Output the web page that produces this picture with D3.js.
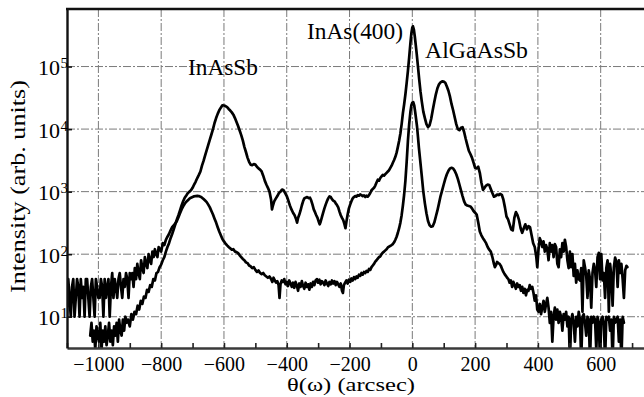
<!DOCTYPE html>
<html>
<head>
<meta charset="utf-8">
<script src="https://cdn.jsdelivr.net/npm/d3@7/dist/d3.min.js"></script>
<style>
  html, body { margin: 0; padding: 0; background: #fff; }
  svg { display: block; }
</style>
</head>
<body>
<svg id="chart" width="644" height="397"></svg>
<script>
// ---------------- DATA ----------------
const xMajorTicks = [-1000, -800, -600, -400, -200, 0, 200, 400, 600];
const xMinorTicks = [-1100, -900, -700, -500, -300, -100, 100, 300, 500, 700];
const yTickExponents = [1, 2, 3, 4, 5];
const xTitle = "θ(ω) (arcsec)";
const yTitle = "Intensity (arb. units)";
const peakLabels = ["InAsSb", "InAs(400)", "AlGaAsSb"];

// upper curve: [theta (arcsec), intensity]
const upperCurve = [
  [-1026,5],[-1022,8],[-1018,4],[-1014,6],[-1010,3],[-1006,7],[-1002,5],[-998,4],[-994,8],[-990,3],
  [-986,6],[-982,4],[-978,7],[-974,3.5],[-970,5],[-966,8],[-962,4],[-958,6],[-954,3.5],[-950,7],
  [-946,5],[-942,8],[-938,4],[-934,9],[-930,6],[-926,5],[-922,9],[-918,6],[-914,10],[-910,8],
  [-906,9],[-900,7],[-895,11],[-890,9],[-885,12],[-880,11],[-875,15],[-870,13],[-865,18],[-860,16],
  [-855,21],[-850,20],[-845,27],[-840,25],[-835,32],[-830,30],[-825,40],[-820,38],[-815,50],[-810,52],
  [-805,62],[-800,68],[-795,80],[-790,90],[-785,110],[-780,130],[-775,150],[-770,180],[-765,210],[-760,250],
  [-755,300],[-750,360],[-745,420],[-740,500],[-735,600],[-730,700],[-725,800],[-720,870],[-715,950],[-710,1000],
  [-705,1050],[-700,1150],[-695,1300],[-690,1450],[-685,1650],[-680,1850],[-675,2100],[-670,2600],[-665,3100],[-660,3800],
  [-655,4600],[-650,5600],[-645,6800],[-640,8200],[-635,10000],[-630,12500],[-625,15000],[-620,17500],[-615,20000],[-610,22000],
  [-605,24000],[-600,23800],[-595,23300],[-590,22500],[-585,21000],[-580,19800],[-575,18500],[-570,17000],[-565,15000],[-560,13000],
  [-555,11200],[-550,9500],[-545,8000],[-540,6600],[-535,5200],[-530,4300],[-525,3500],[-520,3000],[-515,2700],[-510,2650],
  [-505,2750],[-500,2700],[-495,2500],[-490,2350],[-485,2250],[-480,2100],[-475,1800],[-470,1500],[-465,1300],[-460,1150],
  [-455,1000],[-450,750],[-447,520],[-444,600],[-440,700],[-436,760],[-430,850],[-425,950],[-420,1000],[-415,1080],
  [-410,1050],[-405,950],[-400,850],[-395,720],[-390,600],[-385,520],[-380,460],[-375,420],[-370,360],[-367,320],
  [-364,380],[-360,430],[-356,500],[-352,600],[-348,700],[-344,780],[-340,800],[-335,820],[-330,790],[-326,800],
  [-322,720],[-318,620],[-314,520],[-310,470],[-306,420],[-302,380],[-298,330],[-295,300],[-292,330],[-288,390],
  [-284,460],[-280,540],[-276,620],[-272,700],[-268,780],[-264,840],[-260,820],[-256,760],[-252,720],[-248,700],
  [-244,650],[-240,610],[-236,560],[-232,480],[-228,420],[-224,380],[-220,350],[-216,300],[-213,260],[-210,330],
  [-206,430],[-202,540],[-198,620],[-194,700],[-190,780],[-186,820],[-182,850],[-178,830],[-174,880],[-170,860],
  [-166,900],[-162,880],[-158,850],[-154,870],[-150,820],[-146,860],[-142,830],[-138,880],[-134,950],[-130,1050],
  [-126,1100],[-122,1150],[-118,1250],[-114,1400],[-110,1550],[-106,1500],[-102,1650],[-98,1750],[-94,1850],[-90,1800],
  [-86,1900],[-82,2000],[-78,2100],[-74,2200],[-70,2400],[-66,2600],[-62,2900],[-58,3200],[-54,3600],[-50,4200],
  [-46,5200],[-42,6500],[-38,8500],[-34,12000],[-30,18000],[-26,25000],[-22,36000],[-18,55000],[-14,85000],[-10,140000],
  [-6,240000],[-3,340000],[0,420000],[2,440000],[5,390000],[8,300000],[11,220000],[14,160000],[18,100000],[22,62000],
  [26,40000],[30,28000],[35,19000],[40,15000],[45,12000],[50,10800],[55,11500],[60,14500],[65,20000],[70,27000],
  [75,36000],[80,45000],[85,52000],[90,56000],[95,58000],[100,57500],[105,55000],[110,48000],[115,41000],[120,33000],
  [125,25000],[130,20000],[135,15500],[140,12000],[145,10000],[150,9600],[155,10500],[160,10700],[165,9000],[170,7000],
  [175,5600],[180,4500],[185,4000],[190,3500],[195,2900],[200,2400],[205,2350],[210,2500],[215,2000],[220,1400],
  [225,1070],[230,1150],[235,1250],[240,1300],[245,1280],[250,1100],[255,950],[260,830],[265,850],[270,900],
  [275,880],[280,920],[285,890],[290,750],[295,560],[300,400],[305,360],[310,300],[315,250],[320,240],
  [325,380],[330,470],[335,420],[340,350],[345,260],[350,220],[355,260],[360,300],[365,250],[370,280],
  [375,270],[380,200],[385,150],[390,130],[395,90],[398,62],[402,120],[406,180],[410,160],[414,130],
  [418,160],[422,110],[426,140],[430,120],[434,80],[438,150],[442,110],[446,140],[450,90],[454,145],
  [458,130],[462,70],[466,62],[470,120],[474,90],[478,150],[482,110],[486,170],[490,130],[494,80],
  [498,60],[502,110],[506,62],[510,100],[514,45],[518,70],[522,35],[526,55],[530,40],[534,38],
  [538,60],[542,12],[546,80],[550,62],[554,45],[558,20],[562,55],[566,40],[570,14],[574,50],
  [578,70],[582,56],[586,30],[590,90],[594,105],[598,40],[602,100],[606,38],[610,50],[614,20],
  [618,60],[622,80],[626,12],[630,70],[634,45],[638,15],[642,62],[646,88],[650,75],[654,30],
  [658,80],[662,50],[666,70],[670,40],[674,20],[678,55],[682,65],[685,62]
];

// lower curve: [theta (arcsec), intensity]
const lowerCurve = [
  [-1100,10],[-1096,40],[-1092,20],[-1088,10],[-1084,30],[-1080,40],[-1076,10],[-1072,20],[-1068,40],[-1064,30],
  [-1060,10],[-1056,40],[-1052,20],[-1048,30],[-1044,10],[-1040,40],[-1036,40],[-1032,20],[-1028,10],[-1024,30],
  [-1020,40],[-1016,20],[-1012,10],[-1008,40],[-1004,30],[-1000,20],
  [-996,20],[-992,40],[-988,30],[-984,10],[-980,40],[-976,20],[-972,30],[-968,40],[-964,10],[-960,30],
  [-956,50],[-952,20],[-948,40],[-944,30],[-940,20],[-936,40],[-932,50],[-928,30],[-924,20],[-920,40],
  [-916,30],[-912,50],[-908,40],[-904,20],[-900,50],
  [-896,40],[-892,50],[-888,30],[-884,60],[-880,40],[-876,70],[-872,50],[-868,40],[-864,80],[-860,60],
  [-856,50],[-852,90],[-848,70],[-844,60],[-840,100],[-836,80],[-832,70],[-828,110],[-824,90],[-820,120],
  [-816,100],[-812,90],[-808,130],
  [-800,110],[-795,150],[-790,140],[-785,170],[-780,190],[-775,210],[-770,240],[-765,270],[-760,290],[-755,310],
  [-750,340],[-745,390],[-740,450],[-735,520],[-730,580],[-725,640],[-720,690],[-715,730],[-710,770],[-705,800],
  [-700,820],[-695,840],[-690,850],[-685,855],[-680,850],[-675,830],[-670,800],[-665,760],[-660,720],[-655,680],
  [-650,620],[-645,560],[-640,490],[-635,430],[-630,370],[-625,320],[-620,270],[-615,230],[-610,200],[-605,175],
  [-600,160],[-595,148],[-590,138],[-585,130],[-580,124],[-575,118],[-570,120],[-565,110],[-560,108],[-555,104],
  [-550,96],[-545,90],[-540,84],[-535,80],[-530,74],[-525,72],[-520,66],[-515,64],[-510,60],[-505,62],
  [-500,56],[-495,52],[-490,55],[-485,50],[-480,48],[-475,50],[-470,46],[-465,44],[-460,42],[-455,44],
  [-450,40],[-446,36],[-442,42],[-438,38],[-434,35],[-430,37],[-426,32],[-423,20],[-420,33],[-416,38],
  [-412,36],[-408,40],[-404,33],[-400,36],[-396,31],[-392,38],[-388,34],[-384,30],[-380,35],[-376,29],
  [-372,36],[-368,32],[-364,26],[-360,34],[-356,30],[-352,37],[-348,31],[-344,28],[-340,35],[-336,30],
  [-332,33],[-328,27],[-324,34],[-320,30],[-316,36],[-312,32],[-308,38],[-304,40],[-300,35],[-296,39],
  [-292,33],[-288,37],[-284,35],[-280,32],[-276,38],[-272,34],[-268,31],[-264,36],[-260,33],[-256,38],
  [-252,34],[-248,37],[-244,32],[-240,36],[-236,33],[-232,30],[-228,34],[-224,26],[-221,24],[-218,32],
  [-214,35],[-210,38],[-206,34],[-202,39],[-198,36],[-194,41],[-190,38],[-186,43],[-182,40],[-178,44],
  [-174,42],[-170,47],[-166,45],[-162,50],[-158,47],[-154,52],[-150,50],[-146,54],[-142,52],[-138,58],
  [-134,56],[-130,62],[-126,66],[-122,70],[-118,76],[-114,80],[-110,85],[-106,90],[-102,92],[-98,100],
  [-94,106],[-90,110],[-86,115],[-82,120],[-78,128],[-74,132],[-70,136],[-66,140],[-62,145],[-58,155],
  [-54,170],[-50,190],[-46,220],[-42,260],[-38,320],[-34,420],[-30,600],[-26,900],[-22,1500],[-18,3000],
  [-14,6500],[-10,12000],[-6,19000],[-3,24000],[0,26500],[3,27000],[6,24000],[9,19000],[12,14500],[15,11000],
  [18,7500],[21,5000],[25,3200],[30,1800],[35,1000],[40,650],[45,450],[50,340],[55,290],[60,275],
  [65,280],[70,320],[75,400],[80,500],[85,650],[90,850],[95,1050],[100,1300],[105,1600],[110,1900],
  [115,2150],[120,2350],[125,2400],[130,2350],[135,2150],[140,1900],[145,1600],[150,1300],[155,1050],[160,850],
  [165,700],[170,620],[175,600],[180,590],[185,580],[190,540],[195,490],[200,460],[205,430],[210,320],
  [215,230],[220,200],[225,180],[230,165],[235,150],[240,130],[245,118],[250,110],[255,90],[260,70],
  [263,62],[266,66],[270,75],[274,72],[278,70],[282,65],[286,58],[290,52],[294,48],[298,45],
  [302,42],[306,40],[310,35],[314,38],[318,30],[322,36],[326,32],[330,28],[334,34],[338,30],
  [342,32],[346,26],[350,30],[354,24],[358,28],[362,22],[366,27],[370,26],[374,32],[378,28],
  [382,30],[386,24],[390,18],[394,22],[398,13],[402,12],[406,16],[410,11],[414,14],[418,18],
  [422,12],[426,16],[430,20],[434,14],[438,8],[442,12],[446,4],[450,10],[454,14],[458,9],
  [462,13],[466,8],[470,12],[474,10],[478,6],[482,11],[486,9],[490,12],[494,7],[498,10],
  [502,2],[506,9],[510,11],[514,8],[518,4],[522,10],[526,7],[530,12],[534,9],[538,2],
  [542,10],[546,11],[550,8],[554,5],[558,10],[562,9],[566,2],[570,10],[574,8],[578,10],
  [582,9],[586,3],[590,10],[594,8],[598,2],[602,9],[606,10],[610,8],[614,2],[618,10],
  [622,9],[626,10],[630,6],[634,9],[638,2],[642,10],[646,8],[650,9],[654,10],[658,4],
  [662,9],[666,2],[670,10],[674,8]
];

// ---------------- LAYOUT ----------------
const L = 67, R = 644, T = 9, B = 348;
const FONT = "Liberation Serif";
const svg = d3.select("#chart");
const x = d3.scaleLinear().domain([-1100, 738]).range([L, R]);
const y = d3.scaleLog().domain([Math.pow(10, 0.5), Math.pow(10, 5.92)]).range([B, T]);

function addText(sel, size) {
  return sel.append("text").style("font-family", FONT)
    .style("font-size", size + "px").attr("fill", "#000");
}

// clip
svg.append("defs").append("clipPath").attr("id", "plotclip")
  .append("rect").attr("x", L).attr("y", T).attr("width", R - L).attr("height", B - T);

// gridlines
const grid = svg.append("g").attr("stroke", "#7a7a7a").attr("stroke-width", 1)
  .attr("stroke-dasharray", "8,2,2,2").attr("fill", "none");
xMajorTicks.forEach(v => {
  grid.append("line").attr("x1", x(v)).attr("x2", x(v)).attr("y1", T).attr("y2", B);
});
yTickExponents.forEach(e => {
  grid.append("line").attr("x1", L).attr("x2", R).attr("y1", y(Math.pow(10, e))).attr("y2", y(Math.pow(10, e)));
});

// curves
const line = d3.line().x(d => x(d[0])).y(d => y(Math.max(d[1], 0.5)));
const curves = svg.append("g").attr("clip-path", "url(#plotclip)");
[lowerCurve, upperCurve].forEach(c => {
  curves.append("path").datum(c).attr("d", line)
    .attr("fill", "none").attr("stroke", "#000").attr("stroke-width", 2.7)
    .attr("stroke-linejoin", "round").attr("stroke-linecap", "round");
});

// bottom axis
const allXTicks = xMajorTicks.concat(xMinorTicks).sort((a, b) => a - b);
const xAxis = d3.axisBottom(x).tickValues(allXTicks).tickSizeInner(-5).tickSizeOuter(0)
  .tickFormat(d => xMajorTicks.includes(d) ? (d < 0 ? "\u2212" + (-d) : String(d)) : "");
const gx = svg.append("g").attr("transform", `translate(0,${B})`).call(xAxis);
gx.select(".domain").attr("stroke", "#3a3a3a").attr("stroke-width", 2.4);
gx.selectAll(".tick line").attr("stroke", "#222").attr("stroke-width", 1.6);
gx.selectAll(".tick text").attr("y", 23).attr("dy", 0)
  .style("font-family", FONT).style("font-size", "20px").attr("fill", "#000");

// left axis
const yAxis = d3.axisLeft(y).tickValues(yTickExponents.map(e => Math.pow(10, e)))
  .tickSizeInner(-5).tickSizeOuter(0).tickFormat("");
const gy = svg.append("g").attr("transform", `translate(${L},0)`).call(yAxis);
gy.select(".domain").attr("stroke", "#111").attr("stroke-width", 2.4);
gy.selectAll(".tick line").attr("stroke", "#111").attr("stroke-width", 1.6);

const yLab = svg.append("g");
yTickExponents.forEach(e => {
  const ty = y(Math.pow(10, e));
  addText(yLab, 22).attr("x", 60).attr("y", ty + 8.5).attr("text-anchor", "end").text("10");
  addText(yLab, 15).attr("x", 60.5).attr("y", ty + 1.5).attr("text-anchor", "start").text(String(e));
});

// top frame line
svg.append("line").attr("x1", L - 1).attr("x2", R).attr("y1", T).attr("y2", T)
  .attr("stroke", "#111").attr("stroke-width", 2.4);

// axis titles
addText(svg, 21).attr("transform", "translate(25,186.5) rotate(-90)")
  .attr("text-anchor", "middle")
  .attr("textLength", 213).attr("lengthAdjust", "spacingAndGlyphs").text(yTitle);
addText(svg, 19).attr("x", 287).attr("y", 391)
  .attr("textLength", 128).attr("lengthAdjust", "spacingAndGlyphs").text(xTitle);

// peak labels
const labelPos = [[188, 75, 70], [307, 39, 96], [425, 58, 103]];
peakLabels.forEach((t, i) => {
  addText(svg, 23).attr("x", labelPos[i][0]).attr("y", labelPos[i][1])
    .attr("textLength", labelPos[i][2]).attr("lengthAdjust", "spacingAndGlyphs").text(t);
});
</script>
</body>
</html>
